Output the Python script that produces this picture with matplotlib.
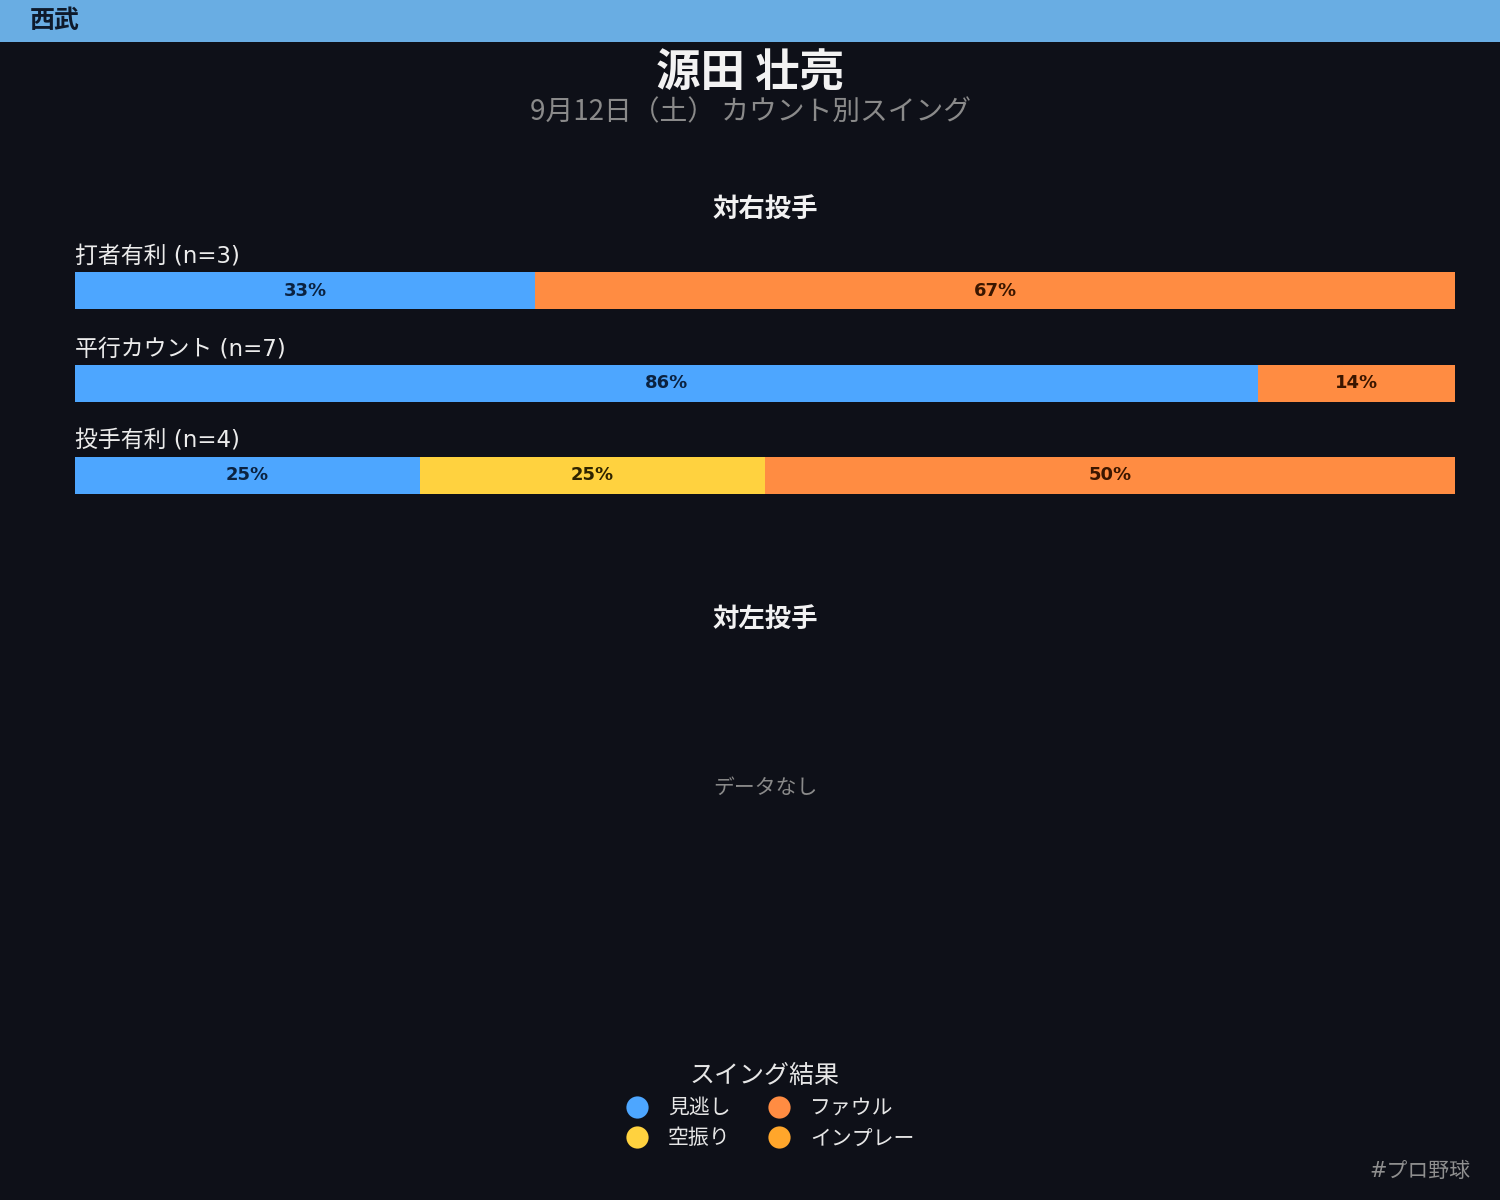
import numpy as np
import matplotlib
matplotlib.use("Agg")
import matplotlib.pyplot as plt
from matplotlib.lines import Line2D
from matplotlib.patches import Rectangle

plt.rcParams['font.family'] = ['DejaVu Sans', 'Noto Sans CJK JP']

# データ
team = "西武"
player = "源田 壮亮"
subtitle = "9月12日（土） カウント別スイング"
results = ["見逃し", "空振り", "ファウル", "インプレー"]
result_colors = ["#4da6ff", "#ffd23f", "#ff8c42", "#ffa62b"]
text_colors = ["#0b2240", "#2e2400", "#3a1600", "#3a2000"]

right_counts_labels = ["打者有利", "平行カウント", "投手有利"]
# 見逃し, 空振り, ファウル, インプレー
right_counts = [
    [1, 0, 2, 0],
    [6, 0, 1, 0],
    [1, 1, 2, 0],
]
left_counts_labels = []
left_counts = []

BG = "#0e1018"
HEADER = "#69ade3"

fig = plt.figure(figsize=(15, 12), dpi=100, facecolor=BG)

# ヘッダー
fig.patches.append(Rectangle((0, 1 - 42 / 1200), 1, 42 / 1200, transform=fig.transFigure,
                             facecolor=HEADER, edgecolor="none", zorder=0))
fig.text(30 / 1500, 1 - 21 / 1200, team, fontsize=18, fontweight="bold", color="#0e1a2b",
         ha="left", va="center", family=['Noto Sans CJK JP'])

# タイトル
fig.text(0.5, 1 - 74 / 1200, player, fontsize=32, fontweight="bold", color="#f2f2f2",
         ha="center", va="center", family=['Noto Sans CJK JP'])
fig.text(0.5, 1 - 112 / 1200, subtitle, fontsize=20, color="#8a8a8a",
         ha="center", va="center", family=['Noto Sans CJK JP'])


def draw_section(ax, labels, counts):
    ax.set_facecolor(BG)
    ax.set_xlim(0, 1)
    ax.set_ylim(2.5, -0.7)
    ax.axis("off")
    if not counts:
        return
    arr = np.array(counts, dtype=float)
    n = arr.sum(axis=1)
    pct = arr / n[:, None]
    for i, label in enumerate(labels):
        ax.text(0, i - 0.245, f"{label} (n={int(n[i])})", fontsize=16.5, color="#ececec",
                ha="left", va="bottom")
        left = 0.0
        for j in range(len(results)):
            w = pct[i, j]
            if w <= 0:
                continue
            ax.barh(i, w, left=left, height=0.4, color=result_colors[j], edgecolor="none")
            ax.text(left + w / 2, i, f"{w * 100:.0f}%", fontsize=13, fontweight="bold",
                    color=text_colors[j], ha="center", va="center")
            left += w


# 対右投手
fig.text(765 / 1500, 1 - 209 / 1200, "対右投手", fontsize=19, fontweight="bold",
         color="#f2f2f2", ha="center", va="center", family=['Noto Sans CJK JP'])
ax_r = fig.add_axes([75 / 1500, 1 - 521.75 / 1200, 1380 / 1500, 296 / 1200])
draw_section(ax_r, right_counts_labels, right_counts)

# 対左投手
fig.text(765 / 1500, 1 - 619 / 1200, "対左投手", fontsize=19, fontweight="bold",
         color="#f2f2f2", ha="center", va="center", family=['Noto Sans CJK JP'])
ax_l = fig.add_axes([75 / 1500, 1 - 932 / 1200, 1380 / 1500, 296 / 1200])
draw_section(ax_l, left_counts_labels, left_counts)
if not left_counts:
    fig.text(765 / 1500, 1 - 788 / 1200, "データなし", fontsize=15, color="#8a8a8a",
             ha="center", va="center", family=['Noto Sans CJK JP'])

# 凡例
handles = [Line2D([], [], marker="o", linestyle="none", markersize=16,
                  markerfacecolor=c, markeredgecolor="none") for c in result_colors]
leg = fig.legend(handles, results, ncol=2, loc="upper center",
                 bbox_to_anchor=(765 / 1500, 1 - 1044 / 1200), frameon=False,
                 title="スイング結果", title_fontsize=18,
                 labelcolor="#e6e6e6", handletextpad=0.5, columnspacing=1.3,
                 labelspacing=0.4, prop={'family': ['Noto Sans CJK JP'], 'size': 15})
leg.get_title().set_color("#e6e6e6")
leg.get_title().set_family(['Noto Sans CJK JP'])

fig.text(1470 / 1500, 1 - 1171 / 1200, "#プロ野球", fontsize=15, color="#8f8f8f",
         ha="right", va="center")

fig.savefig("out.png", dpi=100, facecolor=BG)
